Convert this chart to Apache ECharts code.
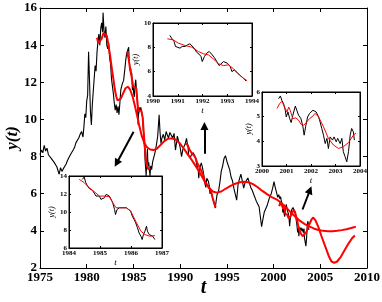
<!DOCTYPE html>
<html><head><meta charset="utf-8">
<script src="https://cdn.jsdelivr.net/npm/echarts@6/dist/echarts.min.js"></script>
<style>html,body{margin:0;padding:0;background:#fff}#c{width:382px;height:302px}</style>
</head><body><div id="c"></div>
<script>
// ---- data: observed series [t, y(t)] ----
const rateSeries = [
[1975.0,8.1],[1975.15,8.35],[1975.3,8.2],[1975.45,8.6],[1975.6,8.3],[1975.75,8.45],[1975.9,8.1],
[1976.05,8.2],[1976.2,7.9],[1976.35,8.0],[1976.5,7.7],[1976.65,7.75],[1976.8,7.45],[1976.95,7.55],
[1977.05,7.05],[1977.2,7.4],[1977.35,7.2],[1977.5,7.35],[1977.65,7.25],[1977.8,7.6],[1977.95,7.8],
[1978.1,7.95],[1978.25,8.1],[1978.4,8.05],[1978.55,8.35],[1978.7,8.5],[1978.85,8.75],[1979.0,8.7],
[1979.15,9.0],[1979.3,9.2],[1979.45,9.35],[1979.6,9.05],[1979.7,9.6],[1979.8,10.3],[1979.9,10.1],
[1980.0,11.0],[1980.1,11.3],[1980.2,13.65],[1980.3,12.1],[1980.4,10.4],[1980.5,9.7],[1980.6,10.8],
[1980.7,11.5],[1980.8,12.2],[1980.9,12.9],[1981.0,12.6],[1981.1,13.6],[1981.2,14.2],[1981.3,14.6],
[1981.4,14.0],[1981.5,14.9],[1981.6,15.2],[1981.7,14.7],[1981.75,15.75],[1981.85,14.8],[1981.95,14.4],
[1982.05,15.0],[1982.15,14.0],[1982.25,13.8],[1982.35,14.1],[1982.45,13.3],[1982.55,13.0],[1982.65,12.2],
[1982.75,12.3],[1982.85,11.4],[1982.95,10.9],[1983.05,10.5],[1983.15,10.8],[1983.25,10.35],[1983.35,10.7],
[1983.45,10.25],[1983.55,10.9],[1983.65,11.6],[1983.8,11.9],[1983.95,12.1],[1984.1,12.8],[1984.2,13.3],
[1984.3,13.6],[1984.43,13.63],[1984.49,13.89],[1984.54,13.26],[1984.6,12.88],[1984.65,12.62],[1984.71,12.77],
[1984.76,12.4],[1984.82,12.51],[1984.87,11.77],[1984.92,11.58],[1984.98,11.77],[1985.03,11.4],[1985.09,11.21],
[1985.14,11.58],[1985.2,11.96],[1985.25,12.14],[1985.3,11.77],[1985.36,11.4],[1985.41,11.03],[1985.47,10.28],
[1985.5,9.72],[1985.55,10.28],[1985.63,10.47],[1985.68,10.65],[1985.74,10.47],[1985.79,10.65],[1985.85,10.47],
[1985.92,10.28],[1985.99,10.1],[1986.04,9.54],[1986.1,9.17],[1986.15,8.8],[1986.21,8.24],[1986.26,7.68],
[1986.32,7.31],[1986.36,6.94],[1986.4,7.49],[1986.45,7.87],[1986.5,8.42],[1986.53,7.87],[1986.59,7.49],
[1986.64,7.68],[1986.7,7.31],[1986.75,7.12],[1986.77,6.94],[1986.85,7.5],[1986.95,7.3],[1987.05,7.7],
[1987.15,7.6],[1987.3,8.2],[1987.45,8.6],[1987.6,9.1],[1987.75,10.25],[1987.85,9.3],[1987.95,8.7],
[1988.05,9.0],[1988.2,9.2],[1988.35,8.9],[1988.5,9.35],[1988.6,9.2],[1988.75,9.0],[1988.9,9.3],
[1989.05,9.4],[1989.2,9.0],[1989.35,9.25],[1989.5,8.35],[1989.6,8.7],[1989.7,9.1],[1989.85,8.8],
[1990.0,8.5],[1990.15,8.0],[1990.3,8.4],[1990.45,8.3],[1990.55,8.7],
[1990.68,8.98],[1990.75,8.76],[1990.85,8.48],[1990.91,8.07],[1990.99,8.15],[1991.09,7.93],[1991.18,8.07],
[1991.29,8.07],[1991.4,8.21],[1991.49,8.29],[1991.56,8.15],[1991.67,7.93],[1991.76,7.6],[1991.86,7.44],
[1991.94,7.25],[1991.99,6.83],[1992.08,7.25],[1992.17,7.52],[1992.27,7.66],[1992.37,7.44],[1992.48,7.16],
[1992.58,6.83],[1992.67,6.5],[1992.75,6.34],[1992.85,6.83],[1992.92,6.91],[1993.01,6.69],[1993.12,6.42],
[1993.19,6.0],[1993.28,6.14],[1993.39,5.95],[1993.49,5.73],[1993.57,5.67],[1993.66,5.45],[1993.76,5.23],
[1993.85,5.6],[1993.95,5.95],[1994.1,6.1],[1994.25,6.6],[1994.4,7.2],[1994.55,7.5],[1994.7,7.9],
[1994.85,8.05],[1995.0,7.75],[1995.15,7.8],[1995.3,7.3],[1995.45,6.9],[1995.6,6.7],[1995.75,6.3],
[1995.9,6.2],[1996.05,5.65],[1996.2,6.5],[1996.35,6.8],[1996.5,7.05],[1996.65,6.7],[1996.8,6.3],
[1996.95,6.6],[1997.1,6.55],[1997.25,6.85],[1997.4,6.6],[1997.55,6.35],[1997.7,6.2],[1997.85,6.0],
[1998.0,5.95],[1998.15,5.6],[1998.3,5.55],[1998.45,5.3],[1998.6,5.25],[1998.72,4.22],[1998.85,4.6],
[1999.0,5.0],[1999.15,5.1],[1999.3,5.35],[1999.45,5.6],[1999.6,5.85],[1999.75,6.0],[1999.9,6.3],
[2000.05,6.65],[2000.15,6.4],[2000.3,6.1],[2000.45,5.8],[2000.55,5.95],
[2000.68,5.73],[2000.75,5.84],[2000.81,5.66],[2000.88,5.53],[2000.95,5.26],[2000.99,4.99],[2001.06,5.19],
[2001.13,4.92],[2001.19,4.76],[2001.26,5.06],[2001.36,5.43],[2001.42,5.26],[2001.49,5.06],[2001.59,4.92],
[2001.67,4.59],[2001.72,4.25],[2001.78,4.59],[2001.86,4.99],[2001.94,5.13],[2002.01,5.06],[2002.08,5.26],
[2002.14,5.33],[2002.21,5.19],[2002.31,4.99],[2002.37,4.79],[2002.44,4.52],[2002.51,4.25],[2002.58,3.91],
[2002.65,4.12],[2002.71,3.71],[2002.78,4.18],[2002.88,4.05],[2002.94,4.18],[2003.03,3.98],[2003.09,4.12],
[2003.19,3.91],[2003.26,4.12],[2003.32,3.58],[2003.39,3.38],[2003.46,3.17],[2003.53,3.58],[2003.6,4.25],
[2003.66,4.52],[2003.73,4.38],[2003.77,4.05]
];
// ---- fits [t, y] ----
const fitLong = [
[1981.1,14.4],[1981.25,14.1],[1981.4,14.05],[1981.6,14.35],[1981.8,14.65],[1981.97,14.75],[1982.15,14.5],
[1982.3,14.1],[1982.5,13.45],[1982.7,12.7],[1982.85,12.2],[1983.0,11.65],[1983.15,11.25],[1983.3,11.02],
[1983.45,10.97],[1983.65,11.12],[1983.9,11.4],[1984.15,11.68],[1984.4,11.76],[1984.65,11.6],[1984.9,11.25],
[1985.15,10.75],[1985.4,10.2],[1985.65,9.6],[1985.9,9.1],[1986.15,8.75],[1986.45,8.5],[1986.8,8.38],
[1987.15,8.35],[1987.5,8.42],[1987.9,8.62],[1988.3,8.83],[1988.7,8.96],[1989.1,8.98],[1989.5,8.92],
[1989.9,8.75],[1990.3,8.5],[1990.7,8.2],[1991.1,7.92],[1991.5,7.62],[1991.9,7.3],[1992.3,6.95],
[1992.7,6.6],[1993.1,6.3],[1993.5,6.12],[1993.9,6.06],[1994.4,6.12],[1994.9,6.28],[1995.4,6.42],
[1995.9,6.54],[1996.4,6.62],[1996.9,6.64],[1997.3,6.62],[1997.8,6.52],[1998.3,6.35],[1998.8,6.15],
[1999.3,5.98],[1999.8,5.82],[2000.3,5.7],[2000.8,5.52],[2001.3,5.28],[2001.8,5.02],[2002.3,4.77],
[2002.8,4.55],[2003.3,4.38],[2003.8,4.24],[2004.3,4.13],[2004.8,4.05],[2005.3,4.0],[2005.8,3.98],
[2006.3,3.98],[2006.8,4.0],[2007.3,4.04],[2007.8,4.09],[2008.3,4.15],[2008.8,4.22]
];
const fit1984 = [
[1984.33,13.63],[1984.49,13.26],[1984.65,12.7],[1984.82,12.25],[1984.98,11.77],[1985.14,11.77],[1985.3,11.7],
[1985.41,11.03],[1985.52,10.47],[1985.68,10.47],[1985.85,10.47],[1985.99,10.1],[1986.15,8.98],[1986.32,7.87],
[1986.45,7.49],[1986.61,7.31],[1986.77,7.38]
];
const fit1990 = [
[1990.58,8.7],[1990.81,8.62],[1991.02,8.35],[1991.29,8.15],[1991.56,8.02],[1991.83,7.66],[1992.04,7.47],
[1992.24,7.38],[1992.44,7.05],[1992.65,6.64],[1992.85,6.5],[1993.05,6.56],[1993.26,6.23],[1993.46,5.81],
[1993.66,5.45],[1993.8,5.26]
];
const fit2000 = [
[2000.61,5.33],[2000.72,5.53],[2000.81,5.62],[2000.88,5.6],[2000.95,5.33],[2001.02,5.19],[2001.09,5.39],
[2001.15,5.26],[2001.26,4.92],[2001.38,4.95],[2001.49,4.86],[2001.6,4.68],[2001.7,4.65],[2001.83,4.79],
[2001.95,4.93],[2002.04,4.99],[2002.17,5.13],[2002.31,4.99],[2002.51,4.59],[2002.71,4.12],[2002.92,3.85],
[2003.12,3.71],[2003.32,3.78],[2003.53,3.95],[2003.73,4.25],[2003.84,4.34]
];
const fit2000Forecast = [
[2004.05,4.6],[2004.25,4.72],[2004.5,4.55],[2004.8,4.2],[2005.1,3.75],[2005.5,3.2],[2005.9,2.65],
[2006.2,2.35],[2006.5,2.27],[2006.8,2.35],[2007.2,2.6],[2007.6,2.95],[2008.0,3.3],[2008.4,3.6],[2008.7,3.75]
];
// ---- windows shown in insets (t ranges of data) ----
const window1984 = [1984.4, 1986.8];
const window1990 = [1990.65, 1993.8];
const window2000 = [2000.65, 2003.8];
// ---- arrows [from, to] in data coords ----
const arrows = [
  [[1985.02, 9.34], [1983.2, 7.64]],
  [[1992.6, 8.15], [1992.6, 9.65]],
  [[2003.1, 5.15], [2003.9, 6.2]]
];
// ---- tick labels ----
const mainTicksX = [1975,1980,1985,1990,1995,2000,2005,2010];
const mainTicksY = [2,4,6,8,10,12,14,16];
const in90TicksX = [1990,1991,1992,1993,1994];
const in90TicksY = [4,6,8,10];
const in00TicksX = [2000,2001,2002,2003,2004];
const in00TicksY = [3,4,5,6];
const in84TicksX = [1984,1985,1986,1987];
const in84TicksY = [6,8,10,12,14];

const SERIF = '"Liberation Serif","Times New Roman",serif';
const inWin = (arr, w) => arr.filter(p => p[0] >= w[0] && p[0] <= w[1]);

function axes(gi, ticks, dim, o) {
  const base = {
    type: 'value', gridIndex: gi,
    min: ticks[0], max: ticks[ticks.length - 1], interval: ticks[1] - ticks[0],
    axisLine: { show: true, onZero: false, lineStyle: { color: '#000', width: 1 } },
    axisTick: { show: true, inside: true, length: o.tick, lineStyle: { color: '#000', width: 1 } },
    splitLine: { show: false },
    z: o.z
  };
  const prim = Object.assign({}, base, {
    position: dim === 'x' ? 'bottom' : 'left',
    axisLabel: { show: true, color: '#000', fontFamily: SERIF, fontWeight: 'bold', fontSize: o.fs,
      margin: o.margin, showMinLabel: true, showMaxLabel: true, formatter: v => String(v) },
    name: o.name, nameLocation: 'middle', nameGap: o.nameGap, nameMoveOverlap: o.moveOverlap,
    nameTextStyle: { color: '#000', fontFamily: SERIF, fontStyle: 'italic', fontWeight: o.nameWeight, fontSize: o.nameFs }
  });
  const mir = Object.assign({}, base, {
    position: dim === 'x' ? 'top' : 'right',
    axisLabel: { show: false }
  });
  return [prim, mir];
}

const gridBase = { containLabel: false, outerBoundsMode: 'none' };
const insetBox = { z: 10, show: true, backgroundColor: '#fff', borderColor: '#000', borderWidth: 1 };
const grids = [
  Object.assign({ left: 40, top: 8, width: 327, height: 260, z: 0 }, gridBase),
  Object.assign({ left: 153, top: 23, width: 99, height: 73 }, gridBase, insetBox),
  Object.assign({ left: 262, top: 92, width: 98, height: 74 }, gridBase, insetBox),
  Object.assign({ left: 69, top: 176, width: 93, height: 72 }, gridBase, insetBox)
];

const mainOpt = { z: 1, tick: 4, fs: 13, margin: 3, moveOverlap: false };
const inOpt = { z: 11, tick: 2, fs: 7, margin: 2, moveOverlap: true };
const xAxis = [].concat(
  axes(0, mainTicksX, 'x', Object.assign({}, mainOpt, { name: 't', nameGap: 10, nameFs: 20, nameWeight: 'bold' })),
  axes(1, in90TicksX, 'x', Object.assign({}, inOpt, { name: 't', nameGap: 10, nameFs: 9, nameWeight: 'normal' })),
  axes(2, in00TicksX, 'x', Object.assign({}, inOpt, { name: 't', nameGap: 10, nameFs: 9, nameWeight: 'normal' })),
  axes(3, in84TicksX, 'x', Object.assign({}, inOpt, { name: 't', nameGap: 10, nameFs: 9, nameWeight: 'normal' }))
);
const yAxis = [].concat(
  axes(0, mainTicksY, 'y', Object.assign({}, mainOpt, { name: 'y(t)', nameGap: 19, nameFs: 17, nameWeight: 'bold' })),
  axes(1, in90TicksY, 'y', Object.assign({}, inOpt, { name: 'y(t)', nameGap: 8, nameFs: 8, nameWeight: 'normal' })),
  axes(2, in00TicksY, 'y', Object.assign({}, inOpt, { name: 'y(t)', nameGap: 5, nameFs: 8, nameWeight: 'normal' })),
  axes(3, in84TicksY, 'y', Object.assign({}, inOpt, { name: 'y(t)', nameGap: 9, nameFs: 8, nameWeight: 'normal' }))
);

function line(data, gi, color, width, z) {
  return { type: 'line', data: data, xAxisIndex: 2 * gi, yAxisIndex: 2 * gi, showSymbol: false, symbol: 'none',
    lineStyle: { color: color, width: width }, z: z, silent: true, animation: false, clip: true };
}

const series = [
  line(rateSeries, 0, '#000', 1.1, 2),
  line(fitLong, 0, '#ff0000', 2, 3),
  line(fit1984, 0, '#ff0000', 2, 3),
  line(fit1990, 0, '#ff0000', 2, 3),
  line(fit2000.concat(fit2000Forecast), 0, '#ff0000', 2, 3),
  Object.assign(line([], 0, '#000', 1, 4), {
    markLine: { silent: true, animation: false, symbol: ['none', 'triangle'], symbolSize: 8,
      label: { show: false }, lineStyle: { color: '#000', width: 2, type: 'solid' },
      itemStyle: { color: '#000' },
      data: arrows.map(a => [{ coord: a[0] }, { coord: a[1] }]) }
  }),
  line(inWin(rateSeries, window1990), 1, '#000', 1, 12),
  line(fit1990, 1, '#ff0000', 1, 13),
  line(inWin(rateSeries, window2000), 2, '#000', 1, 12),
  line(fit2000, 2, '#ff0000', 1, 13),
  line(inWin(rateSeries, window1984), 3, '#000', 1, 12),
  line(fit1984, 3, '#ff0000', 1, 13)
];

const chart = echarts.init(document.getElementById('c'), null, { renderer: 'canvas' });
chart.setOption({ animation: false, backgroundColor: '#fff', grid: grids, xAxis: xAxis, yAxis: yAxis, series: series });
</script></body></html>
